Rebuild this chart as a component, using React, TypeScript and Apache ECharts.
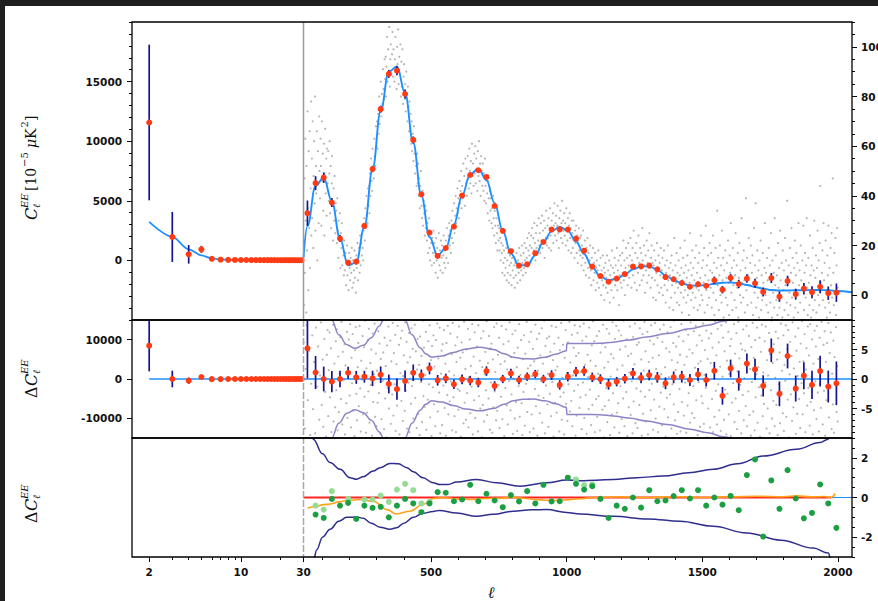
import React, { useEffect, useRef } from 'react';
import * as echarts from 'echarts';

// ---------------- data: low multipoles (log-x part) ----------------
const lowL = [2,3,4,5,6,7,8,9,10,11,12,13,14,15,16,17,18,19,20,21,22,23,24,25,26,27,28,29];
const lowData = [11570,1970,510,930,135,60,45,40,35,32,30,28,26,25,24,22,21,20,19,18,17,16,15,15,14,14,13,13];
const lowErr = [6530,2100,780,290,130,90,70,60,50,45,40,38,36,34,32,30,28,27,26,25,24,23,22,21,20,20,19,19];
const lowModel = [3230,1970,930,420,170,80,50,40,34,31,29,27,25,24,23,21,20,19,18,17,16,15,14,14,13,13,12,12];
const lowResid = [8470,0,-420,510,-35,-20,-5,0,1,1,1,1,1,1,1,1,1,1,1,1,1,1,1,1,1,1,1,1];

// ---------------- data: binned high multipoles ----------------
const bins = [44.5,74.5,104.5,134.5,164.5,194.5,224.5,254.5,284.5,314.5,344.5,374.5,404.5,434.5,464.5,494.5,524.5,554.5,584.5,614.5,644.5,674.5,704.5,734.5,764.5,794.5,824.5,854.5,884.5,914.5,944.5,974.5,1004.5,1034.5,1064.5,1094.5,1124.5,1154.5,1184.5,1214.5,1244.5,1274.5,1304.5,1334.5,1364.5,1394.5,1424.5,1454.5,1484.5,1514.5,1544.5,1574.5,1604.5,1634.5,1664.5,1694.5,1724.5,1754.5,1784.5,1814.5,1844.5,1874.5,1904.5,1934.5,1964.5,1994.5];
const topData = [33.0,45.1,47.3,37.3,22.8,13.1,13.5,27.9,50.8,74.9,89.1,90.4,81.0,62.5,40.6,25.2,15.8,19.0,27.6,40.1,48.4,50.3,47.6,35.9,25.9,17.7,11.9,12.4,16.9,21.4,26.4,26.5,26.4,22.8,17.9,11.5,7.7,5.4,6.7,8.5,11.5,11.6,11.9,10.4,7.3,6.4,4.9,3.4,4.4,3.8,6.0,2.2,7.0,4.5,6.7,4.8,1.3,6.9,-0.6,5.7,0.4,2.6,1.2,3.4,0.8,1.0];
const residData = [5.2,1.1,0,-0.45,0,1.06,0.28,0.39,0.1,0.73,-0.84,-1.73,-0.34,1.06,0.61,1.79,-0.22,0.1,-0.9,-0.05,-0.27,-0.6,1.34,-1.17,0,0.95,-0.17,0.39,0.84,0,0.67,-1.0,0.39,1.23,1.34,0.28,0,-0.9,-0.45,0.05,0.95,0.2,0.67,0.28,-0.73,0.28,0.39,-0.17,0.78,-0.17,1.4,-2.85,1.79,-0.27,2.62,1.62,-1.17,4.86,-2.51,3.9,-1.62,0.56,-1.0,1.34,-1.28,-0.73];
const sigma = [5.1,2.8,2.1,1.8,1.4,1.0,1.1,1.0,1.3,1.4,1.6,1.8,1.8,1.4,1.0,1.0,0.9,0.8,0.8,0.8,0.8,0.8,0.8,0.8,0.7,0.8,0.7,0.7,0.7,0.7,0.8,0.8,0.8,0.8,0.8,0.8,0.8,0.9,0.8,0.8,0.9,0.9,0.9,0.9,1.0,1.0,1.0,1.0,1.1,1.1,1.5,1.5,1.5,1.7,1.7,1.8,1.8,2.0,2.1,2.1,2.2,2.3,2.4,2.6,2.7,3.7];

// model curve (high-ell)
const modelL = [30,44.5,74.5,104.5,134.5,164.5,194.5,224.5,254.5,284.5,314.5,344.5,374.5,404.5,434.5,464.5,494.5,524.5,554.5,584.5,614.5,644.5,674.5,704.5,734.5,764.5,794.5,824.5,854.5,884.5,914.5,944.5,974.5,1004.5,1034.5,1064.5,1094.5,1124.5,1154.5,1184.5,1214.5,1244.5,1274.5,1304.5,1334.5,1364.5,1394.5,1424.5,1454.5,1484.5,1514.5,1544.5,1574.5,1604.5,1634.5,1664.5,1694.5,1724.5,1754.5,1784.5,1814.5,1844.5,1874.5,1904.5,1934.5,1964.5,1994.5,2052];
const modelV = [15,27.8,44.0,47.3,37.8,22.8,12.0,13.2,27.5,50.7,74.2,89.9,92.1,81.3,61.4,40.0,23.4,16.0,18.9,28.5,40.1,48.7,50.9,46.3,37.1,25.9,16.8,12.1,12.0,16.1,21.4,25.7,27.5,26.0,21.6,16.6,11.2,7.5,6.0,6.6,8.3,10.4,11.6,11.6,10.2,8.0,6.1,4.7,3.9,3.8,4.1,4.6,5.0,5.1,4.8,4.1,3.3,2.6,2.1,1.9,1.9,2.0,2.0,2.1,2.1,2.0,1.7,1.2];

// residual panel envelope (+/-)
const midEnvL = [30,60,100,134,160,190,220,250,280,310,324,345,370,385,404,430,460,480,502,540,582,630,680,730,770,803,840,877,920,960,999,1001,1060,1123,1172,1230,1295,1370,1455,1520,1577,1650,1800,2000];
const midEnvV = [40,25,14,10,7.5,5.8,5.2,5.7,7.0,9.0,10,11.5,12,11.5,10,7.5,5.3,4.3,3.7,3.9,4.5,5.1,5.4,5.0,4.3,3.7,3.45,3.4,3.7,4.2,4.8,6.0,6.0,6.05,6.25,6.6,7.1,7.7,8.5,9.1,9.8,10.6,12,14];

// bottom panel
const botUpL = [40,66,100,128,165,201,226,250,287,312,349,380,411,435,470,508,533,560,595,668,742,828,926,1000,1049,1110,1172,1260,1356,1450,1541,1630,1725,1848,1934,1964,1975,1982];
const botUpV = [4.5,2.94,2.2,1.76,1.42,1.0,0.92,1.05,1.33,1.5,1.72,1.7,1.5,1.3,1.0,0.74,0.65,0.65,0.78,0.91,0.74,0.57,0.74,0.88,0.85,0.87,0.91,1.0,1.08,1.25,1.42,1.7,2.09,2.43,2.77,2.94,3.3,3.6];
const botLoL = [40,66,79,100,128,160,189,226,250,280,312,349,373,400,435,470,508,530,595,668,730,803,870,926,1000,1049,1172,1300,1418,1540,1664,1790,1909,1965,1975,1982];
const botLoV = [-4.5,-3.2,-2.63,-2.0,-1.6,-1.2,-1.0,-0.98,-1.05,-1.3,-1.5,-1.6,-1.53,-1.3,-1.0,-0.8,-0.7,-0.65,-0.78,-0.95,-0.85,-0.69,-0.62,-0.61,-0.75,-0.83,-0.95,-1.08,-1.2,-1.45,-1.79,-2.15,-2.55,-2.8,-3.2,-3.6];
const orangeL = [45,75,103,128,160,189,238,287,337,373,422,471,508,540,600,650,700,760,800,850,900,950,1000,1050,1100,1200,1300,1400,1500,1600,1700,1800,1850,1900,1950,1975,1990];
const orangeV = [-0.53,-0.45,-0.36,-0.33,-0.22,-0.15,-0.1,-0.19,-0.61,-0.83,-0.69,-0.35,-0.05,0,-0.08,-0.1,-0.05,-0.03,0.02,-0.05,-0.12,-0.15,-0.12,-0.06,0,0.03,0,0.04,0,0.03,0.06,0.04,0.08,0.03,0.05,0,0.2];
const darkGreen = [-0.86,-1.03,-0.07,-0.41,-0.27,-1.08,-0.41,-0.52,-0.47,-1.0,-0.41,-0.07,-0.3,-0.74,-0.3,0.27,0.24,-0.19,-0.1,0.64,-0.19,0.19,-0.15,-0.49,0.12,-0.2,0.32,-0.3,0.64,-0.2,-0.19,1.0,0.69,0.4,0.57,-0.07,-1.03,-0.41,-0.57,0,-0.51,0.37,-0.19,-0.15,0.07,0.37,-0.05,0.37,-0.41,0,-0.36,0.08,-0.64,1.13,1.92,-1.97,0.86,-0.57,1.38,-0.05,-1.05,-0.78,0.66,-0.3,-1.53];
const lightL = [74.5,104.5,134.5,194.5,254.5,284.5,314.5,344.5,374.5,404.5,434.5,464.5,494.5,1034.5,1064.5,1094.5];
const lightV = [-0.41,-0.61,0.32,-0.07,-0.1,-0.1,0.1,-0.22,0.4,0.69,0.37,-0.3,-0.22,0.91,0.62,0.65];
const redLineEnd = 1975;

// unbinned points
const grayTop = [
[31,22],[32,-4],[34,47],[35,9],[37,63],[38,30],[40,-7],[41,52],[43,18],[45,74],[46,35],[48,2],[49,58],[51,27],[53,66],[54,11],[56,43],[58,78],[59,24],
[61,55],[62,31],[64,70],[66,19],[67,48],[69,62],[71,37],[72,80],[74,26],[76,52],[77,41],[79,66],[81,14],[83,58],[84,45],[86,29],[88,72],[89,50],
[91,39],[93,63],[94,52],[96,28],[98,70],[100,46],[101,57],[103,34],[105,61],[107,24],[108,49],[110,67],[112,41],[114,55],[115,32],[117,59],[119,45],
[121,58],[123,38],[125,49],[126,62],[128,33],[130,52],[132,27],[134,45],[135,56],[137,36],[139,22],[141,43],[143,30],[145,48],[147,25],[149,37],
[151,34],[153,21],[155,39],[157,26],[158,15],[160,30],[162,23],[164,33],[166,11],[168,25],[170,19],[171,29],[173,12],[175,22],[177,16],[179,8],
[181,22],[183,10],[185,17],[187,4],[188,14],[190,20],[192,8],[194,13],[196,2],[198,17],[200,11],[202,6],[204,15],[206,9],[208,19],[210,3],
[212,14],[214,5],[216,10],[218,18],[220,7],[221,13],[223,1],[225,16],[227,11],[229,21],[231,6],[233,14],[235,19],[237,9],[239,24],
[241,12],[243,21],[245,16],[247,28],[248,19],[250,14],[252,26],[254,31],[256,22],[258,35],[260,27],[262,40],[264,32],[266,29],[268,43],[270,36],
[272,44],[273,33],[275,49],[277,40],[279,55],[281,46],[283,42],[285,59],[287,51],[289,47],[291,63],[293,56],[295,52],[297,68],[299,60],
[301,70],[303,59],[305,73],[307,65],[309,80],[311,69],[313,75],[315,86],[317,72],[319,81],[321,77],[323,91],[325,83],[327,79],[329,95],
[331,87],[333,96],[334,80],[336,92],[338,104],[340,86],[342,99],[344,90],[346,108],[348,84],[350,95],[352,101],[354,89],[356,97],[358,106],[360,88],
[362,99],[363,111],[365,86],[367,95],[369,104],[371,90],[373,83],[375,100],[377,93],[379,107],[381,85],[383,96],[385,89],[387,101],[389,80],
[391,94],[393,84],[395,99],[397,77],[399,88],[401,93],[403,79],[405,85],[407,74],[409,90],[411,81],[413,70],[415,84],[417,76],[419,66],
[421,78],[423,67],[425,73],[427,61],[429,70],[431,58],[433,65],[435,54],[437,68],[439,57],[441,49],[443,62],[445,52],[447,44],[449,57],
[451,45],[453,53],[455,40],[457,47],[459,35],[461,44],[463,50],[465,36],[467,31],[469,42],[471,28],[473,38],[475,33],[477,24],[479,36],
[481,27],[483,34],[485,22],[487,29],[489,17],[491,26],[493,31],[495,19],[497,14],[499,25],[501,21],[503,12],[505,23],[507,17],[509,26],
[511,13],[513,21],[515,17],[517,9],[519,23],[521,14],[523,19],[525,7],[527,16],[529,25],[531,12],[533,18],[535,10],[537,22],[539,15],
[541,20],[543,9],[545,16],[547,24],[549,13],[551,18],[553,11],[555,22],[557,15],[559,27],[561,19],[563,13],[565,24],[567,29],[569,20],
[571,26],[573,17],[575,30],[577,23],[579,34],[581,21],[583,28],[585,37],[587,25],[589,32],[591,40],[593,29],[595,35],[597,43],[599,33],
[601,39],[603,31],[605,46],[607,37],[609,42],[611,50],[613,35],[615,44],[617,39],[619,53],[621,41],[623,48],[625,36],[627,55],[629,45],
[631,51],[633,40],[635,56],[637,47],[639,43],[641,59],[643,50],[645,45],[647,54],[649,41],[651,61],[653,48],[655,53],[657,44],[659,57],
[661,49],[663,60],[665,45],[667,55],[669,51],[671,42],[673,58],[675,48],[677,62],[679,46],[681,53],[683,40],[685,56],[687,50],[689,44],
[691,53],[693,42],[695,49],[697,38],[699,55],[701,44],[703,37],[705,47],[707,41],[709,33],[711,46],[713,39],[715,30],[717,42],[719,34],
[721,39],[723,29],[725,35],[727,27],[729,40],[731,31],[733,24],[735,34],[737,28],[739,21],[741,31],[743,25],[745,18],[747,28],[749,22],
[751,27],[753,18],[755,23],[757,14],[759,21],[761,17],[763,9],[765,20],[767,13],[769,18],[771,8],[773,15],[775,11],[777,19],[779,6],
[781,14],[783,9],[785,17],[787,5],[789,12],[791,16],[793,8],[795,13],[797,4],[799,15],[801,10],[803,18],[805,7],[807,12],[809,3],
[811,13],[813,8],[815,17],[817,11],[819,5],[821,14],[823,9],[825,19],[827,12],[829,6],[831,16],[833,10],[835,20],[837,13],[839,8],
[841,17],[843,11],[845,21],[847,14],[849,9],[851,19],[853,15],[855,23],[857,12],[859,18],[861,25],[863,16],[865,20],[867,13],[869,24],
[871,19],[873,27],[875,15],[877,23],[879,18],[881,29],[883,21],[885,14],[887,25],[889,19],[891,28],[893,17],[895,22],[897,31],[899,20],
[901,25],[903,17],[905,29],[907,22],[909,32],[911,19],[913,26],[915,21],[917,30],[919,15],[921,27],[923,23],[925,34],[927,20],[929,28],
[931,23],[933,31],[935,19],[937,27],[939,35],[941,24],[943,18],[945,30],[947,26],[949,33],[951,21],[953,28],[955,37],[957,24],[959,29],
[961,32],[963,22],[965,28],[967,36],[969,25],[971,19],[973,31],[975,27],[977,34],[979,23],[981,29],[983,38],[985,21],[987,30],[989,26],
[991,33],[993,24],[995,29],[997,20],[999,35],[1001,27],[1003,22],[1005,31],[1007,18],[1009,28],[1011,33],[1013,23],[1015,27],[1017,17],[1019,30],
[1021,25],[1023,19],[1025,30],[1027,22],[1029,15],[1031,26],[1033,21],[1035,28],[1037,17],[1039,24],[1041,13],[1043,22],[1045,27],[1047,18],[1049,23],
[1051,16],[1053,24],[1055,12],[1057,20],[1059,15],[1061,26],[1063,10],[1065,18],[1067,22],[1069,13],[1071,8],[1073,19],[1075,15],[1077,23],[1079,11],
[1081,17],[1083,7],[1085,14],[1087,20],[1089,10],[1091,4],[1093,15],[1095,12],[1097,19],[1099,6],[1101,13],[1103,9],[1105,17],[1107,2],[1109,11],
[1111,14],[1113,5],[1115,10],[1117,18],[1119,3],[1121,12],[1123,8],[1125,15],[1127,0],[1129,10],[1131,6],[1133,16],[1135,4],[1137,11],[1139,-2],
[1141,9],[1143,13],[1145,3],[1147,7],[1149,16],[1151,1],[1153,10],[1155,5],[1157,14],[1159,-3],[1161,8],[1163,12],[1165,2],[1167,18],[1169,6],
[1171,11],[1173,-1],[1175,9],[1177,15],[1179,4],[1181,12],[1183,7],[1185,19],[1187,2],[1189,10],[1191,14],[1193,-4],[1195,8],[1197,16],[1199,5],
[1201,12],[1203,3],[1205,17],[1207,9],[1209,22],[1211,6],[1213,14],[1215,0],[1217,11],[1219,19],[1221,8],[1223,15],[1225,4],[1227,21],[1229,12],
[1231,7],[1233,16],[1235,23],[1237,10],[1239,3],[1241,14],[1243,19],[1245,8],[1247,26],[1249,12],[1251,5],[1253,17],[1255,11],[1257,21],[1259,2],
[1261,15],[1263,9],[1265,24],[1267,13],[1269,4],[1271,19],[1273,11],[1275,17],[1277,6],[1279,27],[1281,14],[1283,8],[1285,20],[1287,12],[1289,1],
[1291,16],[1293,10],[1295,22],[1297,5],[1299,13],[1301,18],[1303,8],[1305,25],[1307,11],[1309,3],[1311,15],[1313,20],[1315,7],[1317,13],[1319,-1],
[1321,12],[1323,18],[1325,6],[1327,14],[1329,-2],[1331,9],[1333,21],[1335,4],[1337,11],[1339,16],[1341,1],[1343,13],[1345,8],[1347,19],[1349,3],
[1351,10],[1353,15],[1355,0],[1357,7],[1359,18],[1361,4],[1363,12],[1365,-3],[1367,9],[1369,14],[1371,2],[1373,20],[1375,6],[1377,11],[1379,-5],
[1381,8],[1383,13],[1385,-1],[1387,16],[1389,4],[1391,10],[1393,-6],[1395,7],[1397,23],[1399,1],[1401,12],[1403,5],[1405,17],[1407,-3],[1409,9],
[1411,3],[1413,14],[1415,-4],[1417,8],[1419,19],[1421,1],[1423,11],[1425,-7],[1427,6],[1429,15],[1431,-1],[1433,9],[1435,22],[1437,2],[1439,12],
[1441,-3],[1443,7],[1445,16],[1447,0],[1449,10],[1451,-8],[1453,5],[1455,25],[1457,13],[1459,-2],[1461,8],[1463,18],[1465,1],[1467,11],[1469,-5],
[1471,6],[1473,15],[1475,-1],[1477,20],[1479,3],[1481,9],[1483,-6],[1485,13],[1487,2],[1489,17],[1491,-4],[1493,7],[1495,24],[1497,0],[1499,11],
[1501,-2],[1503,14],[1505,5],[1507,19],[1509,-7],[1511,8],[1513,28],[1515,2],[1517,12],[1519,-4],[1521,16],[1523,6],[1525,-1],[1527,21],[1529,10],
[1531,3],[1533,17],[1535,-5],[1537,9],[1539,24],[1541,1],[1543,13],[1545,-8],[1547,6],[1549,19],[1551,-2],[1553,11],[1555,34],[1557,4],[1559,15],
[1561,-6],[1563,8],[1565,20],[1567,0],[1569,12],[1571,-3],[1573,26],[1575,6],[1577,15],[1579,-9],[1581,10],[1583,2],[1585,18],[1587,-1],[1589,7],
[1591,13],[1593,-4],[1595,22],[1597,5],[1599,-8],[1601,16],[1603,9],[1605,29],[1607,1],[1609,11],[1611,-6],[1613,19],[1615,4],[1617,14],[1619,-2],
[1621,8],[1623,25],[1625,-5],[1627,12],[1629,3],[1631,17],[1633,-9],[1635,7],[1637,21],[1639,0],[1641,10],[1643,-3],[1645,31],[1647,5],[1649,14],
[1651,-1],[1653,18],[1655,6],[1657,-7],[1659,11],[1661,39],[1663,2],[1665,15],[1667,-4],[1669,8],[1671,23],[1673,-10],[1675,4],[1677,13],[1679,20],
[1681,-3],[1683,9],[1685,16],[1687,-8],[1689,5],[1691,27],[1693,1],[1695,12],[1697,37],[1699,-5],[1701,7],[1703,18],[1705,-1],[1707,10],[1709,-9],
[1711,14],[1713,3],[1715,22],[1717,-6],[1719,8],[1721,-2],[1723,17],[1725,5],[1727,-10],[1729,11],[1731,29],[1733,0],[1735,9],[1737,-4],[1739,15],
[1741,6],[1743,-7],[1745,19],[1747,2],[1749,12],[1751,-3],[1753,25],[1755,7],[1757,-9],[1759,14],[1761,1],[1763,9],[1765,-5],[1767,31],[1769,4],
[1771,16],[1773,-2],[1775,8],[1777,-8],[1779,21],[1781,3],[1783,11],[1785,-5],[1787,26],[1789,6],[1791,-1],[1793,13],[1795,-9],[1797,18],[1799,2],
[1801,10],[1803,-6],[1805,23],[1807,4],[1809,14],[1811,-3],[1813,38],[1815,7],[1817,-8],[1819,12],[1821,1],[1823,19],[1825,-4],[1827,9],[1829,27],
[1831,-1],[1833,15],[1835,5],[1837,-9],[1839,11],[1841,22],[1843,-5],[1845,8],[1847,17],[1849,0],[1851,13],[1853,-7],[1855,29],[1857,4],[1859,10],
[1861,-3],[1863,20],[1865,6],[1867,-10],[1869,14],[1871,2],[1873,28],[1875,-6],[1877,9],[1879,17],[1881,-1],[1883,12],[1885,31],[1887,3],[1889,-8],
[1891,15],[1893,5],[1895,-4],[1897,24],[1899,8],[1901,-9],[1903,12],[1905,1],[1907,19],[1909,-6],[1911,10],[1913,30],[1915,-2],[1917,7],[1919,16],
[1921,-7],[1923,11],[1925,26],[1927,0],[1929,14],[1931,-4],[1933,21],[1935,44],[1937,5],[1939,-10],[1941,9],[1943,18],[1945,-2],[1947,29],[1949,6],
[1951,13],[1953,-5],[1955,22],[1957,2],[1959,-9],[1961,16],[1963,8],[1965,28],[1967,-3],[1969,11],[1971,-7],[1973,19],[1975,4],[1977,25],[1979,-1],
[1981,47],[1983,9],[1985,-4],[1987,17],[1989,1],[1991,23],[1993,-8],[1995,12],[1997,27],[1999,3]
];

const grayMid = [
[31,6.2],[35,-8.4],[38,1.7],[42,9.1],[46,-3.6],[51,4.8],[55,-9.5],[58,-0.8],
[62,7.4],[65,-5.1],[69,2.9],[73,-9.2],[76,8.7],[80,-1.3],[84,5.5],[88,-6.9],
[91,0.6],[94,9.6],[97,-4.4],[100,3.3],[103,-8.1],[107,6.8],[110,-2.2],[113,-9.8],[116,4.1],[119,8.3],
[121,-6.3],[123,1.5],[126,7.9],[128,-3.1],[131,5.2],[133,-9.0],[136,-0.4],[139,9.2],[141,-7.2],[144,2.6],[147,-4.8],[149,6.4],
[151,-1.9],[153,8.4],[156,-8.7],[158,3.8],[160,-5.6],[163,0.9],[165,7.1],[168,-3.4],[170,9.7],[173,-7.7],[175,4.6],[178,-0.2],
[181,5.9],[183,-9.4],[185,2.3],[188,-4.1],[190,8.0],[192,-6.6],[195,1.1],[197,6.7],[200,-2.8],[202,9.3],[205,-8.2],[207,3.6],[209,-0.7],
[211,7.6],[213,-5.3],[216,0.4],[218,-9.7],[220,4.9],[223,8.8],[225,-2.5],[227,-7.0],[230,2.0],[232,6.1],[234,-4.6],[237,9.0],[239,-1.6],
[241,-8.9],[243,3.1],[246,-0.1],[248,7.3],[250,-6.0],[253,5.4],[255,-3.0],[257,9.9],[260,-9.1],[262,1.8],[264,-5.7],[267,6.6],[269,-2.1],
[271,8.5],[273,-7.4],[276,2.7],[278,-1.0],[280,5.0],[283,-9.6],[285,7.7],[287,-3.9],[290,0.8],[292,9.4],[294,-6.4],[297,4.3],[299,-8.0],
[301,1.4],[303,-4.0],[306,8.1],[308,-2.4],[310,6.0],[313,-9.3],[315,3.4],[317,-6.8],[320,9.8],[322,-0.3],[324,4.5],[327,-8.5],[329,7.0],
[331,-3.3],[333,2.2],[336,-9.9],[338,5.7],[340,-1.5],[343,8.9],[345,-5.0],[347,0.2],[350,6.5],[352,-7.6],[354,3.0],[357,-2.6],[359,9.5],
[361,-6.2],[363,4.4],[366,-0.9],[368,7.5],[370,-8.8],[373,2.5],[375,-4.5],[377,9.0],[380,-1.8],[382,5.8],[384,-9.4],[387,1.0],[389,6.9],
[391,-3.7],[393,8.2],[396,-7.1],[398,0.5],[400,4.0],[403,-5.4],[405,9.6],[407,-2.0],[410,6.3],[412,-8.4],[414,2.8],[417,-0.6],[419,7.8],
[421,-9.0],[423,3.7],[426,-4.2],[428,8.6],[430,-1.2],[433,5.1],[435,-6.7],[437,0.0],[440,9.2],[442,-3.2],[444,4.7],[447,-8.3],[449,1.6],
[451,6.8],[453,-5.9],[456,2.4],[458,-9.5],[460,7.2],[463,-0.5],[465,3.9],[467,-7.3],[470,9.9],[472,-2.9],[474,5.3],[477,-4.7],[479,0.7],
[481,8.0],[483,-8.6],[486,1.9],[488,-3.5],[490,6.4],[493,-0.9],[495,9.1],[497,-6.5],[500,3.2],[502,-9.7],[504,5.6],[507,-1.4],[509,7.4],
[511,-4.3],[513,2.1],[516,-8.0],[518,6.6],[520,-0.2],[523,9.4],[525,-5.5],[527,3.5],[530,-2.3],[532,8.7],[534,-9.2],[537,0.9],[539,4.8],
[541,-7.8],[543,5.9],[546,-1.1],[548,8.3],[550,-4.9],[553,2.6],[555,-9.6],[557,6.1],[560,-2.7],[562,9.0],[564,-6.0],[567,1.3],[569,-3.8],
[571,7.7],[573,-0.4],[576,4.2],[578,-8.7],[580,9.5],[583,-3.1],[585,0.6],[587,-6.3],[590,5.7],[592,-9.0],[594,2.9],[597,7.1],[599,-1.7],
[601,-5.2],[603,8.9],[606,-2.0],[608,3.6],[610,-9.8],[613,6.2],[615,-0.8],[617,4.5],[620,-7.5],[622,9.7],[624,-4.0],[627,1.7],[629,-6.9],
[631,5.0],[633,-2.4],[636,8.5],[638,-8.2],[640,0.3],[643,6.7],[645,-5.8],[647,2.2],[650,-1.3],[652,9.3],[654,-9.4],[657,3.8],[659,-3.6],
[661,7.9],[663,-6.6],[666,1.0],[668,-0.1],[670,5.5],[673,-8.9],[675,9.1],[677,-2.9],[680,3.1],[682,-5.0],[684,6.9],[687,-9.9],[689,2.0],
[691,-4.4],[693,8.1],[696,-7.2],[698,0.8],[700,4.6],[703,-1.9],[705,9.8],[707,-6.1],[710,2.7],[712,-3.3],[714,7.3],[717,-8.6],[719,5.2],
[721,-0.6],[723,6.0],[726,-9.1],[728,3.3],[730,-4.8],[733,8.8],[735,-2.1],[737,1.2],[740,-7.0],[742,9.4],[744,-5.4],[747,4.1],[749,-1.0],
[751,7.0],[753,-8.3],[756,2.5],[758,-3.0],[760,9.0],[763,-6.8],[765,0.4],[767,5.9],[770,-9.7],[772,3.0],[774,-1.5],[777,8.4],[779,-4.5],
[781,1.6],[783,-7.7],[786,6.4],[788,-0.3],[790,9.6],[793,-5.3],[795,3.7],[797,-2.6],[800,7.6],[802,-9.3],[804,0.1],[807,4.4],[809,-6.7],
[811,8.2],[813,-3.9],[816,2.0],[818,-8.8],[820,5.3],[823,-1.2],[825,9.3],[827,-6.4],[830,0.7],[832,6.6],[834,-4.1],[837,-9.5],[839,3.4],
[841,-2.2],[843,7.4],[846,-7.9],[848,4.3],[850,-0.8],[853,9.7],[855,-5.6],[857,1.8],[860,-3.4],[862,6.3],[864,-9.0],[867,2.3],[869,8.0],
[871,-6.0],[873,0.5],[876,5.1],[878,-8.4],[880,3.0],[883,-1.7],[885,9.2],[887,-4.6],[890,6.8],[892,-9.6],[894,1.4],[897,-2.8],[899,7.7],
[901,-5.8],[903,4.0],[906,-0.4],[908,8.6],[910,-7.4],[913,2.6],[915,-3.2],[917,9.9],[920,-9.2],[922,5.6],[924,-1.1],[927,6.9],[929,-4.3],
[931,0.9],[933,-8.1],[936,7.2],[938,-2.5],[940,4.6],[943,-6.3],[945,9.0],[947,-0.5],[950,3.2],[952,-9.8],[954,6.0],[957,-4.0],[959,1.5],
[961,8.8],[963,-5.7],[966,2.1],[968,-1.4],[970,7.0],[973,-8.9],[975,4.9],[977,-3.0],[980,9.5],[982,-6.9],[984,0.2],[987,5.8],[989,-2.3],
[991,-9.4],[993,3.6],[996,8.3],[998,-4.2],[1000,1.0],[1003,-7.1],[1005,6.2],[1007,-0.9],[1010,9.7],[1012,-5.5],[1014,2.8],[1017,-3.7],[1019,7.5],
[1021,-8.0],[1023,0.6],[1026,5.3],[1028,-2.0],[1030,9.1],[1033,-9.6],[1035,3.9],[1037,-6.2],[1040,7.8],[1042,-1.0],[1044,4.4],[1047,-4.9],[1049,8.9],
[1051,-3.1],[1053,1.2],[1056,-8.5],[1058,6.5],[1060,-0.6],[1063,9.4],[1065,-6.6],[1067,2.4],[1070,-2.7],[1072,7.2],[1074,-9.3],[1077,4.1],[1079,0.3],
[1081,-5.1],[1083,8.7],[1086,-1.8],[1088,3.1],[1090,-7.8],[1093,5.7],[1095,-4.4],[1097,9.8],[1100,-0.2],[1102,6.4],[1104,-9.0],[1107,2.2],[1109,-3.4],
[1111,7.3],[1113,-6.4],[1116,0.9],[1118,-2.9],[1120,8.1],[1123,-8.7],[1125,4.5],[1127,-0.7],[1130,6.0],[1132,-5.2],[1134,9.2],[1137,-9.9],[1139,1.9],
[1141,-4.6],[1143,5.4],[1146,-1.5],[1148,8.5],[1150,-7.3],[1153,2.9],[1155,-3.6],[1157,7.7],[1160,-9.5],[1162,0.4],[1164,4.2],[1167,-6.0],[1169,9.6],
[1171,-2.4],[1173,3.5],[1176,-8.2],[1178,6.8],[1180,-0.1],[1183,9.0],[1185,-5.7],[1187,1.6],[1190,-4.1],[1192,8.2],[1194,-9.1],[1197,5.0],[1199,-1.2],
[1201,7.4],[1203,-6.8],[1206,2.3],[1208,-3.3],[1210,9.9],[1213,-8.0],[1215,0.7],[1217,5.5],[1220,-2.2],[1222,6.7],[1224,-9.7],[1227,3.9],[1229,-4.8],
[1231,1.1],[1233,8.9],[1236,-6.1],[1238,4.3],[1240,-0.4],[1243,-9.2],[1245,7.1],[1247,-3.8],[1250,2.5],[1252,9.4],[1254,-7.5],[1257,-1.6],[1259,5.8],
[1261,-8.3],[1263,0.2],[1266,6.2],[1268,-4.4],[1270,8.6],[1273,-2.1],[1275,3.3],[1277,-9.6],[1280,7.6],[1282,-5.9],[1284,1.4],[1287,9.7],[1289,-3.0],
[1291,4.7],[1293,-7.2],[1296,0.6],[1298,8.0],[1300,-9.4],[1303,2.9],[1305,-1.9],[1307,6.5],[1310,-5.3],[1312,9.1],[1314,-0.8],[1317,3.6],[1319,-8.6],
[1321,5.9],[1323,-3.5],[1326,9.5],[1328,-6.7],[1330,1.7],[1333,-0.3],[1335,7.0],[1337,-9.0],[1340,4.0],[1342,-4.7],[1344,8.4],[1347,-2.3],[1349,0.8],
[1351,-7.8],[1353,6.3],[1356,-1.3],[1358,9.2],[1360,-5.1],[1363,2.0],[1365,-9.8],[1367,5.2],[1370,-3.2],[1372,7.9],[1374,-6.5],[1377,0.3],[1379,4.6],
[1381,-2.6],[1383,8.8],[1386,-8.4],[1388,3.2],[1390,-0.9],[1393,6.1],[1395,-4.3],[1397,9.9],[1400,-7.0],[1402,1.5],[1404,5.5],[1407,-9.3],[1409,2.8],
[1411,-5.6],[1413,7.2],[1416,-1.7],[1418,4.1],[1420,-8.9],[1423,9.3],[1425,-3.9],[1427,0.5],[1430,6.4],[1432,-6.2],[1434,2.4],[1437,-0.6],[1439,8.3],
[1441,-9.1],[1443,3.8],[1446,-4.5],[1448,7.5],[1450,-2.4],[1453,5.0],[1455,-7.4],[1457,9.6],[1460,0.0],[1462,-5.8],[1464,4.4],[1467,-1.2],[1469,8.1],
[1471,-6.6],[1473,1.9],[1476,9.0],[1478,-3.6],[1480,5.7],[1483,-9.5],[1485,2.6],[1487,-0.5],[1490,7.4],[1492,-8.1],[1494,3.0],[1497,-2.9],[1499,6.5],
[1501,-4.1],[1503,9.4],[1506,-7.6],[1508,0.7],[1510,4.9],[1513,-1.5],[1515,8.2],[1517,-9.9],[1520,3.4],[1522,-5.0],[1524,6.9],[1527,-0.2],[1529,-8.2],
[1531,2.7],[1533,7.7],[1536,-3.4],[1538,5.3],[1540,-9.0],[1543,1.0],[1545,-6.4],[1547,9.8],[1550,-2.0],[1552,4.0],[1554,-7.7],[1557,8.5],[1559,-0.9],
[1561,6.2],[1563,-5.3],[1566,2.1],[1568,-8.8],[1570,9.1],[1573,-3.0],[1575,0.4],[1577,7.0],[1580,-6.9],[1582,4.7],[1584,-1.8],[1587,9.6],[1589,-9.4],
[1591,3.1],[1593,-2.5],[1596,8.0],[1598,-6.0],[1600,0.9],[1603,5.6],[1605,-9.7],[1607,6.8],[1610,-4.0],[1612,2.3],[1614,-0.7],[1617,9.3],[1619,-7.3],
[1621,4.3],[1623,-3.3],[1626,7.8],[1628,-8.5],[1630,1.3],[1633,9.7],[1635,-5.4],[1637,3.5],[1640,-1.0],[1642,6.0],[1644,-9.2],[1647,5.0],[1649,-2.7],
[1651,8.4],[1653,-7.0],[1656,0.1],[1658,4.8],[1660,-4.6],[1663,9.0],[1665,-8.0],[1667,2.5],[1670,-2.1],[1672,7.3],[1674,-6.1],[1677,1.7],[1679,-9.6],
[1681,5.4],[1683,-0.5],[1686,9.5],[1688,-5.5],[1690,3.6],[1693,-8.7],[1695,6.6],[1697,-3.1],[1700,0.8],[1702,8.7],[1704,-7.4],[1707,2.0],[1709,-1.4],
[1711,7.0],[1713,-9.8],[1716,4.6],[1718,-2.8],[1720,9.2],[1723,-6.3],[1725,1.1],[1727,-4.2],[1730,6.4],[1732,-0.6],[1734,8.9],[1737,-8.4],[1739,3.2],
[1741,-5.0],[1743,0.6],[1746,7.8],[1748,-9.2],[1750,4.2],[1753,-1.9],[1755,9.9],[1757,-6.7],[1760,2.7],[1762,-3.7],[1764,5.9],[1767,-8.0],[1769,0.2],
[1771,8.0],[1773,-4.4],[1776,3.3],[1778,-9.5],[1780,6.9],[1783,-0.9],[1785,4.5],[1787,-7.5],[1790,9.4],[1792,-2.2],[1794,1.4],[1797,-5.8],[1799,7.4],
[1801,-8.8],[1803,2.4],[1806,-0.3],[1808,9.1],[1810,-6.4],[1813,5.1],[1815,-3.5],[1817,8.3],[1820,-9.9],[1822,0.8],[1824,6.3],[1827,-2.6],[1829,3.9],
[1831,-7.1],[1833,9.6],[1836,-4.8],[1838,1.8],[1840,-1.3],[1843,7.2],[1845,-9.3],[1847,4.8],[1850,-5.9],[1852,0.5],[1854,8.6],[1857,-3.4],[1859,2.9],
[1861,-8.3],[1863,6.0],[1866,-0.7],[1868,9.8],[1870,-6.0],[1873,3.0],[1875,-2.4],[1877,7.6],[1880,-9.0],[1882,1.6],[1884,5.2],[1887,-4.5],[1889,8.9],
[1891,-1.5],[1893,4.0],[1896,-7.9],[1898,9.3],[1900,-3.9],[1903,0.4],[1905,6.7],[1907,-9.4],[1910,2.6],[1912,-5.3],[1914,8.2],[1917,-0.4],[1919,5.5],
[1921,-6.8],[1923,9.0],[1926,-2.3],[1928,3.4],[1930,-8.9],[1933,7.0],[1935,-0.8],[1937,-4.9],[1940,9.7],[1942,1.2],[1944,-7.7],[1947,5.8],[1949,-2.0],
[1951,8.1],[1953,-9.6],[1956,2.9],[1958,-3.6],[1960,6.1],[1963,-0.1],[1965,9.5],[1967,-6.5],[1970,4.4],[1972,-1.6],[1974,7.9],[1977,-8.5],[1979,0.9],
[1981,-4.3],[1983,6.5],[1986,-9.1],[1988,3.7],[1990,-0.9],[1993,8.8],[1995,-5.6],[1997,2.2],[1999,-7.2]
];

// ---------------- axes ticks ----------------
const xLowMajor = [2, 10];
const xLowMinor = [3, 4, 5, 6, 7, 8, 9, 20];
const xLinMajor = [30, 500, 1000, 1500, 2000];
const xLinMinor = [100, 200, 300, 400, 600, 700, 800, 900, 1100, 1200, 1300, 1400, 1600, 1700, 1800, 1900];
const yTopLeftMajor = [0, 5000, 10000, 15000];
const yTopRightMajor = [0, 20, 40, 60, 80, 100];
const yMidLeftMajor = [-10000, 0, 10000];
const yMidRightMajor = [-5, 0, 5];
const yBotRightMajor = [-2, 0, 2];

const LOW_MIN = 1.479;
const LOW_MAX = 30;
const HIGH_MIN = 30;
const HIGH_MAX = 2052;

const lg = (v: number) => Math.log10(v);
const LMIN = lg(LOW_MIN);
const LMAX = lg(LOW_MAX);

const BLUE = '#1e8fff';
const RED = '#ff3a14';
const NAVY = '#15158c';
const GRAY = '#b6b6b6';
const TXT = { color: '#111', fontSize: 10.5, fontWeight: 'bold', fontFamily: '"DejaVu Sans", sans-serif' };

const noLine = { show: false, onZero: false };

function hiddenAxis(gridIndex: number, min: number, max: number) {
  return { type: 'value', gridIndex, min, max, show: false, axisLine: noLine, splitLine: { show: false } };
}
function majorAxis(gridIndex: number, min: number, max: number, position: string, majors: number[], fmt: (v: number) => string, margin: number) {
  return {
    type: 'value', gridIndex, min, max, position,
    axisLine: noLine, splitLine: { show: false },
    axisTick: { show: true, customValues: majors, length: 5, lineStyle: { color: '#000', width: 1 } },
    axisLabel: { show: true, customValues: majors, margin, formatter: fmt, ...TXT },
  };
}
function minorAxisCustom(gridIndex: number, min: number, max: number, position: string, vals: number[]) {
  return {
    type: 'value', gridIndex, min, max, position,
    axisLine: noLine, splitLine: { show: false }, axisLabel: { show: false },
    axisTick: { show: true, customValues: vals, length: 3, lineStyle: { color: '#000', width: 1 } },
  };
}
function minorAxisInterval(gridIndex: number, min: number, max: number, position: string, interval: number) {
  return {
    type: 'value', gridIndex, min, max, position, interval,
    axisLine: noLine, splitLine: { show: false }, axisLabel: { show: false },
    axisTick: { show: true, length: 3, lineStyle: { color: '#000', width: 1 } },
  };
}

function scat(xi: number, yi: number, data: number[][], color: string, size: number, z: number) {
  return { type: 'scatter', xAxisIndex: xi, yAxisIndex: yi, data, symbolSize: size, itemStyle: { color, opacity: 1 }, z, silent: true, clip: true };
}
function lineS(xi: number, yi: number, data: number[][], color: string, width: number, z: number, smooth: number | boolean = false) {
  return {
    type: 'line', xAxisIndex: xi, yAxisIndex: yi, data, symbol: 'none', showSymbol: false,
    lineStyle: { color, width }, smooth, smoothMonotone: 'x', z, silent: true, clip: true,
  };
}
function errS(xi: number, yi: number, xs: number[], ys: number[], es: number[], z: number) {
  return {
    type: 'custom', xAxisIndex: xi, yAxisIndex: yi, z, silent: true, clip: true,
    data: xs.map((x, i) => [x, ys[i] - es[i], ys[i] + es[i]]),
    encode: { x: 0, y: [1, 2] },
    renderItem: (params: any, api: any) => {
      const lo = api.coord([api.value(0), api.value(1)]);
      const hi = api.coord([api.value(0), api.value(2)]);
      const cs = params.coordSys;
      const top = Math.max(cs.y, hi[1]);
      const bot = Math.min(cs.y + cs.height, lo[1]);
      if (bot <= top) return { type: 'group', children: [] };
      return { type: 'line', shape: { x1: lo[0], y1: bot, x2: lo[0], y2: top }, style: { stroke: NAVY, lineWidth: 1.7 } };
    },
  };
}

function tx(text: string, x: number, y: number, size: number, italic = false) {
  return {
    type: 'text', x, y, silent: true,
    style: {
      text, fill: '#111', font: `${italic ? 'italic ' : ''}${size}px "DejaVu Serif", serif`,
      textAlign: 'left', textVerticalAlign: 'middle', align: 'left', verticalAlign: 'middle',
    },
  };
}

function buildOption() {
  const grids = [
    { left: 132, top: 22, width: 171.5, height: 298 },
    { left: 303.5, top: 22, width: 548.5, height: 298 },
    { left: 132, top: 320, width: 171.5, height: 118 },
    { left: 303.5, top: 320, width: 548.5, height: 118 },
    { left: 132, top: 438, width: 171.5, height: 119 },
    { left: 303.5, top: 438, width: 548.5, height: 119 },
  ].map((g) => ({ ...g, outerBoundsMode: 'none', containLabel: false, show: false }));

  const plain = (v: number) => String(v);
  const xAxis = [
    hiddenAxis(0, LMIN, LMAX),
    hiddenAxis(1, HIGH_MIN, HIGH_MAX),
    hiddenAxis(2, LMIN, LMAX),
    hiddenAxis(3, HIGH_MIN, HIGH_MAX),
    majorAxis(4, LMIN, LMAX, 'bottom', xLowMajor.map(lg), (v: number) => String(Math.round(Math.pow(10, v))), 9),
    majorAxis(5, HIGH_MIN, HIGH_MAX, 'bottom', xLinMajor, plain, 9),
    minorAxisCustom(4, LMIN, LMAX, 'bottom', xLowMinor.map(lg)),
    minorAxisCustom(5, HIGH_MIN, HIGH_MAX, 'bottom', xLinMinor),
  ];
  const yAxis = [
    majorAxis(0, -5000, 20000, 'left', yTopLeftMajor, plain, 10),
    majorAxis(1, -10, 110, 'right', yTopRightMajor, plain, 9),
    majorAxis(2, -15000, 15000, 'left', yMidLeftMajor, plain, 10),
    majorAxis(3, -10, 10, 'right', yMidRightMajor, plain, 9),
    hiddenAxis(4, -3, 3),
    majorAxis(5, -3, 3, 'right', yBotRightMajor, plain, 9),
    minorAxisInterval(0, -5000, 20000, 'left', 1000),
    minorAxisInterval(1, -10, 110, 'right', 5),
    minorAxisInterval(3, -10, 10, 'right', 1),
    minorAxisInterval(5, -3, 3, 'right', 0.5),
  ];

  const lowX = lowL.map(lg);
  const series: any[] = [
    // top-left
    lineS(0, 0, lowX.map((x, i) => [x, lowModel[i]]), BLUE, 1.8, 3, 0.3),
    errS(0, 0, lowX, lowData, lowErr, 4),
    scat(0, 0, lowX.map((x, i) => [x, lowData[i]]), RED, 6, 5),
    // top-right
    scat(1, 1, grayTop, GRAY, 2.2, 1),
    lineS(1, 1, modelL.map((l, i) => [l, modelV[i]]), BLUE, 1.9, 3, 0.4),
    errS(1, 1, bins, topData, sigma, 4),
    scat(1, 1, bins.map((l, i) => [l, topData[i]]), RED, 6, 5),
    // middle-left
    lineS(2, 2, [[lg(lowL[0]), 0], [LMAX, 0]], BLUE, 1.6, 3),
    errS(2, 2, lowX, lowResid, lowErr, 4),
    scat(2, 2, lowX.map((x, i) => [x, lowResid[i]]), RED, 6, 5),
    // middle-right
    scat(3, 3, grayMid, GRAY, 2.2, 1),
    lineS(3, 3, midEnvL.map((l, i) => [l, midEnvV[i]]), '#8c84c6', 1.5, 2, 0.4),
    lineS(3, 3, midEnvL.map((l, i) => [l, -midEnvV[i]]), '#8c84c6', 1.5, 2, 0.4),
    lineS(3, 3, [[HIGH_MIN, 0], [HIGH_MAX, 0]], BLUE, 1.6, 3),
    errS(3, 3, bins, residData, sigma, 4),
    scat(3, 3, bins.map((l, i) => [l, residData[i]]), RED, 6, 5),
    // bottom-right
    lineS(5, 5, botUpL.map((l, i) => [l, botUpV[i]]), '#2e2e8e', 1.5, 2, 0.4),
    lineS(5, 5, botLoL.map((l, i) => [l, botLoV[i]]), '#2e2e8e', 1.5, 2, 0.4),
    lineS(5, 5, [[HIGH_MIN, 0], [HIGH_MAX, 0]], BLUE, 1.2, 3),
    lineS(5, 5, [[HIGH_MIN, 0], [redLineEnd, 0]], '#ff2424', 1.9, 3),
    lineS(5, 5, orangeL.map((l, i) => [l, orangeV[i]]), '#ffa21a', 1.6, 4, 0.4),
    scat(5, 5, lightL.map((l, i) => [l, lightV[i]]), '#95dc95', 6, 5),
    scat(5, 5, bins.slice(1).map((l, i) => [l, darkGreen[i]]), '#1c9f42', 6, 6),
  ];

  const frame = (y: number, h: number) => ({
    type: 'rect', z: 100, silent: true,
    shape: { x: 132, y, width: 720, height: h },
    style: { fill: 'transparent', stroke: '#000', lineWidth: 1.3 },
  });

  const graphic = [
    { type: 'rect', z: 100, silent: true, shape: { x: 0, y: 0, width: 878, height: 6 }, style: { fill: '#1f1f1f' } },
    { type: 'rect', z: 100, silent: true, shape: { x: 0, y: 0, width: 5, height: 601 }, style: { fill: '#1f1f1f' } },
    { type: 'line', z: 99, silent: true, shape: { x1: 303.5, y1: 22, x2: 303.5, y2: 320 }, style: { stroke: '#9a9a9a', lineWidth: 1.5 } },
    { type: 'line', z: 99, silent: true, shape: { x1: 303.5, y1: 320, x2: 303.5, y2: 557 }, style: { stroke: '#a8a8a8', lineWidth: 1.5, lineDash: [7, 2] } },
    frame(22, 298),
    frame(320, 118),
    frame(438, 119),
    {
      type: 'text', x: 491, y: 592, silent: true,
      style: { text: 'ℓ', fill: '#111', font: 'italic 16px "DejaVu Serif", serif', textAlign: 'center', textVerticalAlign: 'middle', align: 'center', verticalAlign: 'middle' },
    },
    {
      type: 'group', x: 31, y: 167, rotation: Math.PI / 2, silent: true,
      children: [
        tx('C', -53, 0, 16, true), tx('EE', -41, -7, 10, true), tx('ℓ', -41, 5, 10, true),
        tx('[10', -24, 0, 14), tx('−5', 0, -7, 10), tx('μ', 19, 0, 14, true), tx('K', 28, 0, 14),
        tx('2', 39.5, -7, 10), tx(']', 46, 0, 14),
      ],
    },
    {
      type: 'group', x: 31, y: 380, rotation: Math.PI / 2, silent: true,
      children: [tx('Δ', -18, 0, 16), tx('C', -6, 0, 16, true), tx('EE', 6, -7, 10, true), tx('ℓ', 6, 5, 10, true)],
    },
    {
      type: 'group', x: 31, y: 505, rotation: Math.PI / 2, silent: true,
      children: [tx('Δ', -18, 0, 16), tx('C', -6, 0, 16, true), tx('EE', 6, -7, 10, true), tx('ℓ', 6, 5, 10, true)],
    },
  ];

  return {
    animation: false,
    backgroundColor: '#ffffff',
    grid: grids,
    xAxis,
    yAxis,
    series,
    graphic: { elements: graphic },
  };
}

export default function App() {
  const ref = useRef<HTMLDivElement>(null);
  useEffect(() => {
    if (!ref.current) return;
    const chart = echarts.init(ref.current, null, { renderer: 'svg' });
    chart.setOption(buildOption() as any);
    return () => chart.dispose();
  }, []);
  return (
    <div
      ref={ref}
      style={{ position: 'absolute', left: 0, top: 0, width: 878, height: 601, background: '#fff', overflow: 'hidden' }}
    />
  );
}
